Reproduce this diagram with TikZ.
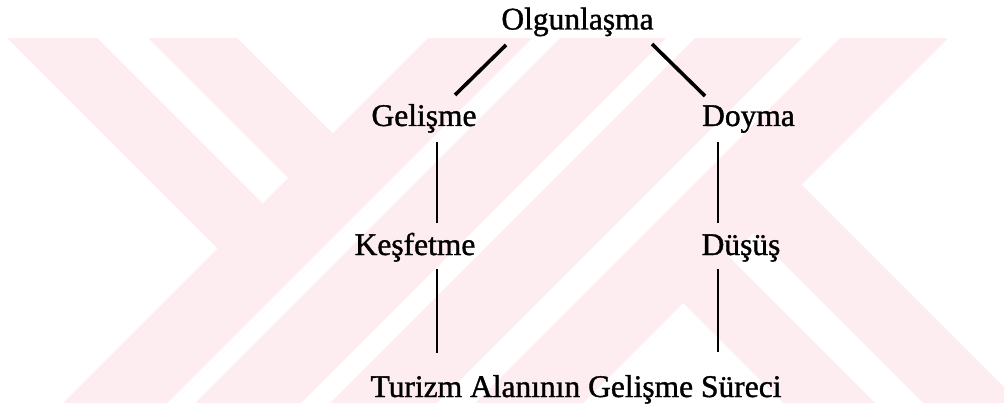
\documentclass[tikz,border=0pt]{standalone}
\usepackage{fontspec}
\setmainfont{Liberation Serif}
\newfontfamily\scanfont[FakeBold=1.2]{Liberation Serif}
\definecolor{wmpink}{RGB}{253,236,240}
\begin{document}
\begin{tikzpicture}[x=0.5pt,y=-0.5pt,
 stage/.style={anchor=base,inner sep=0pt,font=\scanfont\fontsize{15.75}{18}\selectfont},
 tie/.style={line width=1.8pt},
 rod/.style={line width=1.3pt}]
 \useasboundingbox (0,0) rectangle (1004,411);
 \begin{scope}
 \clip (0,39) rectangle (1004,402);
 \fill[wmpink](-131,-100)--(-41,-100)--(264.5,205.5)--(219.5,250.5)--cycle;
 \fill[wmpink](10,-100)--(99,-100)--(334.5,135.5)--(290,180)--cycle;
 \fill[wmpink](566,-100)--(670,-100)--(70,500)--(-34,500)--cycle;
 \fill[wmpink](698,-100)--(804,-100)--(204,500)--(98,500)--cycle;
 \fill[wmpink](833,-100)--(940,-100)--(340,500)--(233,500)--cycle;
 \fill[wmpink](978,-100)--(1086,-100)--(486,500)--(378,500)--cycle;
 \fill[wmpink](682,302)--(728,256)--(1072,600)--(980,600)--cycle;
 \fill[wmpink](752,232)--(800.5,183.5)--(1217,600)--(1120,600)--cycle;
 \end{scope}
 \node[stage] (olg) at (577.5,29.5) {Olgunlaşma};
 \node[stage] (gel) at (424,126) {Gelişme};
 \node[stage] (doy) at (748.5,126) {Doyma};
 \node[stage] (kes) at (415,255) {Keşfetme};
 \node[stage] (dus) at (741,255) {Düşüş};
 \node[stage] (tur) at (576,397) {Turizm Alanının Gelişme Süreci};
 \draw[tie] ([shift={(-71.5,15.5)}]olg.base) -- ([shift={(31,-31)}]gel.base);
 \draw[tie] ([shift={(74.5,14.5)}]olg.base) -- ([shift={(-43.5,-30)}]doy.base);
 \draw[rod] ([shift={(13,16)}]gel.base) -- ([shift={(22,-32)}]kes.base);
 \draw[rod] ([shift={(22,14)}]kes.base) -- ([shift={(-139,-44)}]tur.base);
 \draw[rod] ([shift={(-30.5,16)}]doy.base) -- ([shift={(-23,-32)}]dus.base);
 \draw[rod] ([shift={(-23,14)}]dus.base) -- ([shift={(142,-45)}]tur.base);
\end{tikzpicture}
\end{document}
